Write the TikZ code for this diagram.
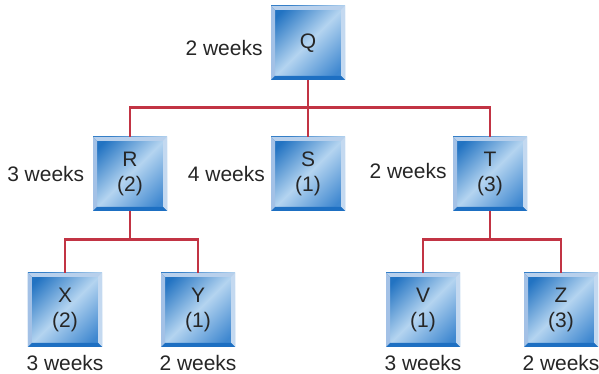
\documentclass[tikz,border=0pt]{standalone}
\usepackage{fontspec}
\setmainfont{Liberation Sans}
\usepackage{tikz}
\usetikzlibrary{positioning}

\definecolor{linkred}{HTML}{C23444}
\definecolor{bluedark}{HTML}{2273C2}
\definecolor{bluelight}{HTML}{B4D4F0}
\definecolor{bluemid}{HTML}{3F88D0}
\definecolor{bevtop}{HTML}{B8D0EC}
\definecolor{bevleft}{HTML}{A3C1E6}
\definecolor{bevright}{HTML}{C4D9F0}
\definecolor{bevbottom}{HTML}{1D6FC2}

% cara de la caixa: fosc a dalt a l'esquerra, franja clara al mig
\pgfdeclareverticalshading{facesh}{100bp}{color(0bp)=(bluemid); color(22bp)=(bluemid);
  color(50bp)=(bluelight); color(78bp)=(bluedark); color(100bp)=(bluedark)}

\tikzset{
  blok/.style={minimum size=2.22cm, inner sep=0pt, align=center,
    text=black!85,
    font=\fontsize{17.9}{21.5}\selectfont,
    path picture={
      \def\bv{0.12cm}
      % inner face
      \shade[shading=facesh, shading angle=45]
        (path picture bounding box.south west) rectangle
        (path picture bounding box.north east);
      % bevels
      \fill[bevtop] (path picture bounding box.north west) --
        (path picture bounding box.north east) --
        ([shift={(-\bv,-\bv)}]path picture bounding box.north east) --
        ([shift={(\bv,-\bv)}]path picture bounding box.north west) -- cycle;
      \fill[bevleft] (path picture bounding box.north west) --
        (path picture bounding box.south west) --
        ([shift={(\bv,\bv)}]path picture bounding box.south west) --
        ([shift={(\bv,-\bv)}]path picture bounding box.north west) -- cycle;
      \fill[bevright] (path picture bounding box.north east) --
        (path picture bounding box.south east) --
        ([shift={(-\bv,\bv)}]path picture bounding box.south east) --
        ([shift={(-\bv,-\bv)}]path picture bounding box.north east) -- cycle;
      \fill[bevbottom] (path picture bounding box.south west) --
        (path picture bounding box.south east) --
        ([shift={(-\bv,\bv)}]path picture bounding box.south east) --
        ([shift={(\bv,\bv)}]path picture bounding box.south west) -- cycle;
    }},
  wk/.style={inner sep=0pt, text=black!85, font=\fontsize{17.9}{21.5}\selectfont},
  link/.style={draw=linkred, line width=2.4pt}
}

\begin{document}
\begin{tikzpicture}[x=0.03cm, y=0.03cm]
  \useasboundingbox (0,0) rectangle (599,374);
  % Activitats
  \node[blok] (Q) at (308,331) {Q};
  \node[blok] (R) at (130,200) {R\\(2)};
  \node[blok] (S) at (308,200) {S\\(1)};
  \node[blok] (T) at (490,200) {T\\(3)};
  \node[blok] (X) at (65,64)  {X\\(2)};
  \node[blok] (Y) at (198,64) {Y\\(1)};
  \node[blok] (V) at (423,64) {V\\(1)};
  \node[blok] (Z) at (561,64) {Z\\(3)};
  % Connexions
  \draw[link] (Q.south) -- ++(0,-27) -| (R.north);
  \draw[link] (Q.south) -- ++(0,-27) -| (T.north);
  \draw[link] (Q.south) -- (S.north);
  \draw[link] (R.south) -- ++(0,-28) -| (X.north);
  \draw[link] (R.south) -- ++(0,-28) -| (Y.north);
  \draw[link] (T.south) -- ++(0,-28) -| (V.north);
  \draw[link] (T.south) -- ++(0,-28) -| (Z.north);
  % Durades
  \node[wk, left=0.24cm of Q, yshift=-0.15cm] (lQ) {2 weeks};
  \node[wk, left=0.25cm of R] (lR) {3 weeks};
  \node[wk, left=0.17cm of S] (lS) {4 weeks};
  \node[wk, left=0.18cm of T, yshift=0.1cm] (lT) {2 weeks};
  \node[wk, below=0.24cm of X] (lX) {3 weeks};
  \node[wk, below=0.24cm of Y] (lY) {2 weeks};
  \node[wk, below=0.24cm of V] (lV) {3 weeks};
  \node[wk, below=0.24cm of Z] (lZ) {2 weeks};
\end{tikzpicture}
\end{document}
